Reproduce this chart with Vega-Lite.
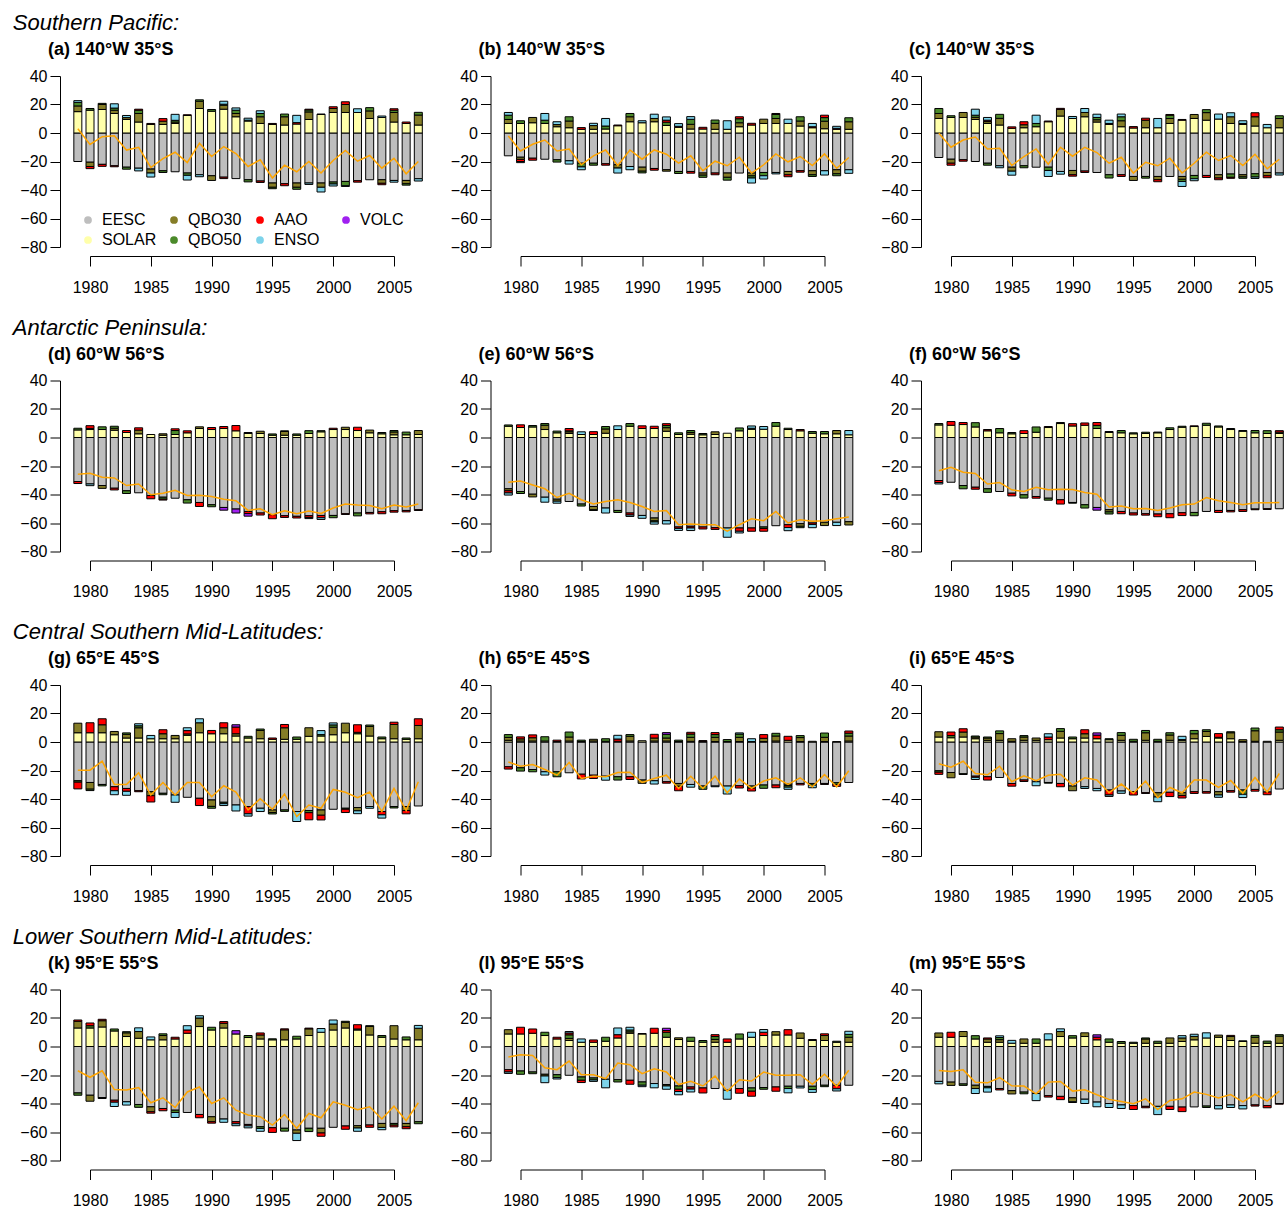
{
"$schema":"https://vega.github.io/schema/vega-lite/v6.json",
"padding":{"left":12,"top":12,"right":0,"bottom":0},
"background":"white",
"config":{
 "view":{"stroke":null},
 "font":"Liberation Sans",
 "axis":{"grid":false,"domainColor":"#000","tickColor":"#000","labelColor":"#000","labelFont":"Liberation Sans","labelFontSize":16,"title":null,"domainWidth":1,"tickWidth":1,"labelOverlap":false},
 "title":{"font":"Liberation Sans","fontSize":18,"fontWeight":"bold","anchor":"start","frame":"group","dx":-42,"color":"#000","offset":9},
 "legend":{"orient":"none","legendX":-10,"legendY":136,"columns":4,"symbolType":"circle","symbolSize":60,"symbolStrokeWidth":0,"labelFontSize":16,"labelFont":"Liberation Sans","labelColor":"#000","columnPadding":9,"rowPadding":4,"gridAlign":"all","labelOffset":6,"title":null}
},
"datasets":{
"comps":[{"comp":"EESC","ord":1},{"comp":"SOLAR","ord":2},{"comp":"QBO30","ord":3},{"comp":"QBO50","ord":4},{"comp":"AAO","ord":5},{"comp":"ENSO","ord":6},{"comp":"VOLC","ord":7}],
"bars":[
{"p":"a","year":1979,"EESC":-20,"SOLAR":15,"QBO30":4,"QBO50":2.5,"ENSO":1.2,"total":3},
{"p":"a","year":1980,"EESC":-20.5,"SOLAR":16,"QBO50":1.2,"QBO30":-3,"AAO":-1.5,"total":-8},
{"p":"a","year":1981,"EESC":-22,"SOLAR":16.5,"QBO30":3.5,"QBO50":0.8,"AAO":-1.4,"total":-2.6},
{"p":"a","year":1982,"EESC":-23,"SOLAR":13.7,"QBO30":2.3,"QBO50":1.5,"ENSO":3,"AAO":-0.7,"total":-2},
{"p":"a","year":1983,"EESC":-24,"SOLAR":9.5,"QBO30":1.3,"ENSO":1.5,"QBO50":-1.4,"total":-12},
{"p":"a","year":1984,"EESC":-24.7,"SOLAR":7.7,"QBO30":6,"QBO50":2.3,"AAO":0.7,"ENSO":-1.9,"total":-10},
{"p":"a","year":1985,"EESC":-25.3,"SOLAR":6,"AAO":0.7,"QBO30":-2.8,"ENSO":-2.8,"total":-24.2},
{"p":"a","year":1986,"EESC":-26.5,"SOLAR":6,"QBO30":2.3,"AAO":1.8,"QBO50":-1.2,"total":-18},
{"p":"a","year":1987,"EESC":-27.2,"SOLAR":6.7,"QBO30":1,"QBO50":1.2,"ENSO":4.2,"total":-13.5},
{"p":"a","year":1988,"EESC":-28.1,"SOLAR":12.3,"AAO":0.5,"QBO50":-1.6,"ENSO":-3.3,"total":-20.7},
{"p":"a","year":1989,"EESC":-29.3,"SOLAR":17.2,"QBO30":5.1,"QBO50":1,"ENSO":-1.4,"total":-7.2},
{"p":"a","year":1990,"EESC":-30,"SOLAR":15.3,"QBO50":1.2,"QBO30":-3.3,"total":-16.5},
{"p":"a","year":1991,"EESC":-31,"SOLAR":16.7,"QBO30":2.8,"QBO50":0.7,"ENSO":2.1,"AAO":-1,"total":-9.5},
{"p":"a","year":1992,"EESC":-32,"SOLAR":11.4,"QBO30":2.3,"QBO50":2.3,"ENSO":1.6,"total":-14.4},
{"p":"a","year":1993,"EESC":-32.8,"SOLAR":8.4,"QBO30":0.6,"ENSO":1.4,"QBO50":-1.5,"total":-23.5},
{"p":"a","year":1994,"EESC":-33.7,"SOLAR":6.7,"QBO30":4.7,"QBO50":2.3,"ENSO":1.9,"AAO":-1,"total":-18.8},
{"p":"a","year":1995,"EESC":-35.1,"SOLAR":6,"AAO":0.7,"QBO30":-3,"QBO50":-1,"total":-31.6},
{"p":"a","year":1996,"EESC":-35.6,"SOLAR":5.6,"QBO30":5.8,"QBO50":1.9,"AAO":-1.4,"total":-22.6},
{"p":"a","year":1997,"EESC":-35.1,"SOLAR":6.3,"ENSO":5.1,"AAO":1,"QBO30":-3,"QBO50":-1.4,"total":-27.2},
{"p":"a","year":1998,"EESC":-35.1,"SOLAR":9.5,"QBO30":5.3,"QBO50":1.4,"AAO":0.5,"ENSO":-1,"total":-20},
{"p":"a","year":1999,"EESC":-35.1,"SOLAR":13,"AAO":0.3,"QBO30":-3,"ENSO":-3.3,"total":-28.1},
{"p":"a","year":2000,"EESC":-34.4,"SOLAR":14.4,"QBO30":2.8,"AAO":1.2,"QBO50":-1.4,"ENSO":-1.4,"total":-19.3},
{"p":"a","year":2001,"EESC":-34,"SOLAR":14.4,"QBO30":5.6,"AAO":1.9,"QBO50":-3,"ENSO":-0.5,"total":-12.3},
{"p":"a","year":2002,"EESC":-33.5,"SOLAR":14.4,"ENSO":2.6,"AAO":-1,"total":-19.8},
{"p":"a","year":2003,"EESC":-32.8,"SOLAR":10.2,"QBO30":5.3,"QBO50":2.3,"total":-15.8},
{"p":"a","year":2004,"EESC":-32.8,"SOLAR":10.9,"ENSO":1,"QBO30":-2.5,"AAO":-1,"total":-24.7},
{"p":"a","year":2005,"EESC":-33.3,"SOLAR":7.7,"QBO30":6.7,"QBO50":1.6,"AAO":1,"ENSO":-1.2,"total":-17.7},
{"p":"a","year":2006,"EESC":-33.3,"SOLAR":6.7,"AAO":1,"QBO30":-2.3,"QBO50":-1,"total":-28.6},
{"p":"a","year":2007,"EESC":-32.1,"SOLAR":5.6,"QBO30":7,"QBO50":1.9,"ENSO":-1.6,"total":-20},
{"p":"b","year":1979,"EESC":-16,"SOLAR":6.7,"QBO30":2.8,"QBO50":3,"ENSO":1.9,"total":-2.1},
{"p":"b","year":1980,"EESC":-17,"SOLAR":6.7,"QBO50":1.9,"QBO30":-1.5,"AAO":-1.5,"ENSO":-0.8,"total":-12.6},
{"p":"b","year":1981,"EESC":-17.7,"SOLAR":7.2,"QBO30":3.7,"AAO":-1.4,"total":-7.9},
{"p":"b","year":1982,"EESC":-18.4,"SOLAR":6.7,"QBO50":2.3,"ENSO":4.7,"total":-4.9},
{"p":"b","year":1983,"EESC":-18.8,"SOLAR":4.4,"QBO30":1.5,"ENSO":2,"QBO50":-1.6,"total":-12.6},
{"p":"b","year":1984,"EESC":-19.5,"SOLAR":3.7,"QBO30":4.7,"QBO50":3,"ENSO":-2.3,"total":-11.2},
{"p":"b","year":1985,"EESC":-21.2,"SOLAR":2.6,"AAO":1.2,"QBO50":-2.6,"ENSO":-2,"total":-22.3},
{"p":"b","year":1986,"EESC":-21.2,"SOLAR":2.6,"QBO30":2.6,"ENSO":1.6,"QBO50":-1.4,"total":-16},
{"p":"b","year":1987,"EESC":-21.6,"SOLAR":2.8,"QBO50":2.1,"ENSO":5.3,"AAO":-1,"total":-11.9},
{"p":"b","year":1988,"EESC":-22.3,"SOLAR":5.1,"AAO":0.5,"QBO30":-2.3,"ENSO":-3.5,"total":-22.8},
{"p":"b","year":1989,"EESC":-23.5,"SOLAR":7.9,"QBO30":3.5,"QBO50":2.3,"ENSO":-2.3,"total":-11.9},
{"p":"b","year":1990,"EESC":-24,"SOLAR":7.2,"ENSO":1.4,"QBO30":-2.8,"QBO50":-1.2,"total":-18.4},
{"p":"b","year":1991,"EESC":-24.9,"SOLAR":7.9,"QBO30":2.3,"ENSO":3,"AAO":-1.2,"total":-11.9},
{"p":"b","year":1992,"EESC":-25.8,"SOLAR":5.3,"QBO50":2.3,"AAO":1.4,"ENSO":2.3,"QBO30":-1,"total":-14.9},
{"p":"b","year":1993,"EESC":-27,"SOLAR":4,"AAO":0.7,"ENSO":1.9,"QBO50":-1.4,"total":-21.2},
{"p":"b","year":1994,"EESC":-27,"SOLAR":2.8,"QBO30":3.3,"QBO50":3.5,"ENSO":1.9,"AAO":-1.2,"total":-16},
{"p":"b","year":1995,"EESC":-28.1,"SOLAR":2.8,"AAO":1.2,"QBO30":-1.5,"QBO50":-1.5,"total":-26.5},
{"p":"b","year":1996,"EESC":-28.1,"SOLAR":2.6,"QBO30":4.2,"QBO50":2.3,"AAO":-1.2,"total":-19.8},
{"p":"b","year":1997,"EESC":-28.1,"SOLAR":2.6,"ENSO":6,"QBO30":-3,"QBO50":-2,"total":-23},
{"p":"b","year":1998,"EESC":-28.1,"SOLAR":4.4,"QBO30":2.8,"QBO50":2.8,"AAO":1.4,"total":-17},
{"p":"b","year":1999,"EESC":-28.1,"SOLAR":5.6,"AAO":1.2,"QBO30":-2,"QBO50":-1.5,"ENSO":-3.5,"total":-28.1},
{"p":"b","year":2000,"EESC":-27.7,"SOLAR":6.7,"QBO30":3,"QBO50":-2.3,"ENSO":-2.3,"total":-22.3},
{"p":"b","year":2001,"EESC":-27.7,"SOLAR":6.7,"QBO30":3.5,"QBO50":2.8,"AAO":0.7,"ENSO":-1,"total":-14.7},
{"p":"b","year":2002,"EESC":-27,"SOLAR":6.7,"ENSO":3,"QBO30":-2.3,"AAO":-1.4,"total":-20.2},
{"p":"b","year":2003,"EESC":-26.5,"SOLAR":4.9,"QBO30":3.5,"QBO50":3,"AAO":-1,"total":-16.5},
{"p":"b","year":2004,"EESC":-26.5,"SOLAR":3.7,"AAO":0.7,"ENSO":2.3,"QBO30":-2.8,"QBO50":-1.2,"total":-22.8},
{"p":"b","year":2005,"EESC":-26.5,"SOLAR":3,"QBO30":5.3,"QBO50":2.5,"AAO":1.7,"ENSO":-3,"total":-14.7},
{"p":"b","year":2006,"EESC":-25.8,"SOLAR":2.6,"AAO":0.7,"ENSO":1.4,"QBO30":-2.8,"QBO50":-1.4,"total":-24.7},
{"p":"b","year":2007,"EESC":-25.8,"SOLAR":2.6,"QBO30":5.3,"QBO50":2.8,"ENSO":-2.5,"total":-17.2},
{"p":"c","year":1979,"EESC":-17.2,"SOLAR":10.2,"QBO30":3.5,"QBO50":3.5,"total":-0.2},
{"p":"c","year":1980,"EESC":-18.4,"SOLAR":10.9,"QBO50":1.2,"QBO30":-2.8,"AAO":-1.4,"total":-10},
{"p":"c","year":1981,"EESC":-18.8,"SOLAR":10.9,"QBO30":3.5,"AAO":-1,"total":-4.9},
{"p":"c","year":1982,"EESC":-20,"SOLAR":9.5,"QBO30":1.5,"QBO50":1.5,"ENSO":4.2,"total":-2.8},
{"p":"c","year":1983,"EESC":-21.2,"SOLAR":6.7,"QBO30":1.3,"AAO":1,"ENSO":1.9,"QBO50":-1.4,"total":-11.2},
{"p":"c","year":1984,"EESC":-23,"SOLAR":5.6,"QBO30":4.7,"QBO50":2.8,"ENSO":-1.4,"total":-10.7},
{"p":"c","year":1985,"EESC":-24,"SOLAR":3.3,"AAO":1,"QBO30":-2.8,"ENSO":-2.8,"total":-22.8},
{"p":"c","year":1986,"EESC":-23,"SOLAR":3.7,"QBO30":2.1,"AAO":2.1,"QBO50":-1.4,"total":-16.5},
{"p":"c","year":1987,"EESC":-24,"SOLAR":4.4,"QBO50":2.3,"ENSO":5.8,"total":-11.2},
{"p":"c","year":1988,"EESC":-24,"SOLAR":7.9,"AAO":0.5,"QBO50":-2.3,"ENSO":-4.2,"total":-21.9},
{"p":"c","year":1989,"EESC":-27,"SOLAR":11.9,"QBO30":4.7,"AAO":0.7,"ENSO":-1.9,"total":-10},
{"p":"c","year":1990,"EESC":-26.3,"SOLAR":10.2,"ENSO":1.4,"QBO30":-3,"AAO":-1,"total":-16.3},
{"p":"c","year":1991,"EESC":-26.7,"SOLAR":11.4,"QBO30":3,"ENSO":2.8,"AAO":-1,"total":-10},
{"p":"c","year":1992,"EESC":-27.7,"SOLAR":7.7,"QBO30":1.6,"QBO50":1.6,"ENSO":2.3,"total":-13.7},
{"p":"c","year":1993,"EESC":-29.3,"SOLAR":6,"AAO":0.7,"ENSO":2.3,"QBO50":-2.3,"total":-21.2},
{"p":"c","year":1994,"EESC":-29.3,"SOLAR":4.4,"QBO30":4.2,"QBO50":2.8,"ENSO":1.9,"AAO":-1.2,"total":-17},
{"p":"c","year":1995,"EESC":-30.5,"SOLAR":3.5,"AAO":1,"QBO30":-2.8,"total":-28.1},
{"p":"c","year":1996,"EESC":-30.5,"SOLAR":3.7,"QBO30":5.3,"AAO":1.4,"QBO50":-1.2,"total":-20.5},
{"p":"c","year":1997,"EESC":-30.5,"SOLAR":3.7,"ENSO":6.5,"QBO30":-2.3,"AAO":-1.4,"total":-23},
{"p":"c","year":1998,"EESC":-30.5,"SOLAR":6.7,"QBO30":3.5,"QBO50":2.3,"AAO":0.5,"total":-17.7},
{"p":"c","year":1999,"EESC":-30.5,"SOLAR":9,"AAO":0.5,"QBO30":-2,"QBO50":-1.5,"ENSO":-3.5,"total":-28.1},
{"p":"c","year":2000,"EESC":-29.8,"SOLAR":10.2,"QBO30":2.8,"QBO50":-2.3,"ENSO":-1.4,"total":-21.2},
{"p":"c","year":2001,"EESC":-29.8,"SOLAR":9,"QBO30":5.3,"QBO50":2.1,"AAO":-1.4,"total":-13.5},
{"p":"c","year":2002,"EESC":-29.3,"SOLAR":9.8,"ENSO":3.5,"QBO30":-2.3,"AAO":-1.2,"total":-19.3},
{"p":"c","year":2003,"EESC":-28.8,"SOLAR":6.7,"QBO30":4.7,"ENSO":2.8,"QBO50":-2.3,"AAO":-0.7,"total":-15.8},
{"p":"c","year":2004,"EESC":-29.3,"SOLAR":6,"AAO":0.7,"ENSO":1.9,"QBO30":-1.5,"QBO50":-1,"total":-22.8},
{"p":"c","year":2005,"EESC":-28.6,"SOLAR":4.9,"QBO30":6.5,"AAO":2.8,"QBO50":-2.3,"ENSO":-1,"total":-14.9},
{"p":"c","year":2006,"EESC":-27.7,"SOLAR":3.7,"ENSO":2.3,"QBO30":-2.3,"AAO":-1.4,"total":-25.1},
{"p":"c","year":2007,"EESC":-28.1,"SOLAR":3.7,"QBO30":6.5,"QBO50":1.9,"ENSO":-1.4,"total":-18.4},
{"p":"d","year":1979,"EESC":-30.9,"SOLAR":5.3,"QBO50":1.2,"AAO":-1.4,"total":-25.8},
{"p":"d","year":1980,"EESC":-32.6,"SOLAR":5.6,"QBO50":0.8,"AAO":1.9,"ENSO":-1.2,"total":-25.1},
{"p":"d","year":1981,"EESC":-33.7,"SOLAR":5.6,"QBO50":1.9,"QBO30":-2,"total":-27.9},
{"p":"d","year":1982,"EESC":-35.6,"SOLAR":5.1,"QBO30":1.4,"QBO50":1.4,"AAO":-1.2,"total":-28.4},
{"p":"d","year":1983,"EESC":-37.4,"SOLAR":3.5,"AAO":1.4,"QBO50":-1.9,"total":-33.7},
{"p":"d","year":1984,"EESC":-38.8,"SOLAR":2.6,"QBO30":2.6,"AAO":1.6,"total":-32.6},
{"p":"d","year":1985,"EESC":-40.7,"SOLAR":2.1,"AAO":-2.3,"total":-40.2},
{"p":"d","year":1986,"EESC":-41.9,"SOLAR":1.6,"QBO30":1,"QBO50":-1.4,"AAO":-0.6,"total":-39.1},
{"p":"d","year":1987,"EESC":-42.6,"SOLAR":2.1,"QBO50":2.8,"AAO":1.2,"total":-37},
{"p":"d","year":1988,"EESC":-43.7,"SOLAR":3.3,"AAO":1.4,"QBO50":-2.3,"total":-40.7},
{"p":"d","year":1989,"EESC":-45.6,"SOLAR":6.3,"QBO30":1.2,"AAO":-2.8,"total":-40.5},
{"p":"d","year":1990,"EESC":-47.2,"SOLAR":5.6,"AAO":1.4,"QBO50":-1.4,"total":-41.4},
{"p":"d","year":1991,"EESC":-49.1,"SOLAR":6.3,"AAO":1.4,"VOLC":-1.9,"total":-43.3},
{"p":"d","year":1992,"EESC":-50.2,"SOLAR":4.7,"AAO":3.7,"VOLC":-2.8,"total":-44.4},
{"p":"d","year":1993,"EESC":-51.9,"SOLAR":2.8,"QBO50":0.7,"AAO":-1.5,"VOLC":-1.8,"total":-51.2},
{"p":"d","year":1994,"EESC":-53,"SOLAR":2.8,"QBO30":1.6,"AAO":-1.4,"total":-50},
{"p":"d","year":1995,"EESC":-54.2,"SOLAR":1.6,"QBO50":0.9,"AAO":-2.8,"total":-54.2},
{"p":"d","year":1996,"EESC":-54.9,"SOLAR":1.6,"QBO30":2.6,"QBO50":0.5,"AAO":-1.2,"total":-51.4},
{"p":"d","year":1997,"EESC":-55.3,"SOLAR":1.6,"QBO50":0.9,"AAO":-1.2,"total":-53.5},
{"p":"d","year":1998,"EESC":-54.9,"SOLAR":2.8,"QBO50":2,"AAO":-1.2,"ENSO":-0.8,"total":-51.6},
{"p":"d","year":1999,"EESC":-54.7,"SOLAR":4,"QBO50":0.8,"AAO":-1.6,"ENSO":-1.2,"total":-53.3},
{"p":"d","year":2000,"EESC":-54.7,"SOLAR":5.6,"AAO":0.9,"QBO50":-1.6,"total":-49.5},
{"p":"d","year":2001,"EESC":-53.5,"SOLAR":5.6,"QBO30":1.6,"AAO":-0.5,"total":-46.7},
{"p":"d","year":2002,"EESC":-53,"SOLAR":4.9,"AAO":2.3,"QBO50":-2,"total":-47.4},
{"p":"d","year":2003,"EESC":-52.6,"SOLAR":3.3,"QBO30":1.9,"AAO":-1,"total":-47.7},
{"p":"d","year":2004,"EESC":-52.1,"SOLAR":2.6,"QBO50":0.9,"AAO":-1.4,"total":-50},
{"p":"d","year":2005,"EESC":-51.4,"SOLAR":1.9,"QBO30":2,"QBO50":1,"AAO":-1,"total":-47.4},
{"p":"d","year":2006,"EESC":-51.2,"SOLAR":1.9,"QBO50":1.9,"AAO":-1,"total":-48.8},
{"p":"d","year":2007,"EESC":-50.7,"SOLAR":2.1,"QBO30":2.8,"AAO":-0.5,"total":-46.7},
{"p":"e","year":1979,"EESC":-36,"SOLAR":7.9,"QBO50":0.9,"QBO30":-1.4,"AAO":-1.5,"ENSO":-1.5,"total":-31.4},
{"p":"e","year":1980,"EESC":-37.9,"SOLAR":7,"AAO":1.9,"QBO50":-1.4,"total":-30.5},
{"p":"e","year":1981,"EESC":-39.8,"SOLAR":7.4,"QBO50":1,"QBO30":-1.9,"total":-33.3},
{"p":"e","year":1982,"EESC":-41.9,"SOLAR":5.6,"QBO30":3,"QBO50":1.2,"ENSO":-3.5,"total":-36},
{"p":"e","year":1983,"EESC":-43.3,"SOLAR":3.3,"QBO50":1.2,"QBO30":-1.4,"ENSO":-1.4,"total":-42.1},
{"p":"e","year":1984,"EESC":-44.9,"SOLAR":2.8,"QBO30":1.2,"QBO50":0.7,"AAO":1.6,"total":-39.1},
{"p":"e","year":1985,"EESC":-46.7,"SOLAR":2.1,"ENSO":1.9,"QBO50":-1.4,"total":-43.7},
{"p":"e","year":1986,"EESC":-48.4,"SOLAR":2.1,"AAO":2,"QBO30":-2.3,"QBO50":-0.5,"total":-46.7},
{"p":"e","year":1987,"EESC":-49.5,"SOLAR":3,"QBO30":3,"QBO50":1.7,"ENSO":-3.5,"total":-44.9},
{"p":"e","year":1988,"EESC":-51.2,"SOLAR":5.6,"ENSO":2.6,"QBO50":-1.4,"total":-43.7},
{"p":"e","year":1989,"EESC":-53,"SOLAR":7.9,"QBO50":1.9,"AAO":-1.4,"ENSO":-1,"total":-45.6},
{"p":"e","year":1990,"EESC":-54.7,"SOLAR":6.3,"AAO":1.9,"ENSO":-2,"total":-48.4},
{"p":"e","year":1991,"EESC":-56.5,"SOLAR":6.3,"AAO":1.6,"QBO30":-2,"QBO50":-0.8,"ENSO":-1.5,"total":-51.9},
{"p":"e","year":1992,"EESC":-58.4,"SOLAR":4.4,"QBO30":2.5,"QBO50":1.5,"AAO":1.3,"ENSO":-2.3,"total":-51.2},
{"p":"e","year":1993,"EESC":-62.8,"SOLAR":2.1,"QBO50":1.2,"AAO":-1,"ENSO":-1.4,"total":-61.2},
{"p":"e","year":1994,"EESC":-62.3,"SOLAR":2.3,"QBO30":1.2,"QBO50":1.4,"AAO":-1.2,"ENSO":-1.8,"total":-60.7},
{"p":"e","year":1995,"EESC":-62.8,"SOLAR":1.9,"QBO50":0.9,"AAO":-1.4,"total":-61.2},
{"p":"e","year":1996,"EESC":-63.3,"SOLAR":2.1,"QBO30":1.9,"AAO":-1.2,"total":-61.2},
{"p":"e","year":1997,"EESC":-63.5,"SOLAR":3,"ENSO":-6.5,"total":-65.8},
{"p":"e","year":1998,"EESC":-63.5,"SOLAR":4.7,"QBO50":2,"AAO":-2.3,"ENSO":-1.2,"total":-61.2},
{"p":"e","year":1999,"EESC":-63.5,"SOLAR":5.8,"QBO50":0.7,"ENSO":1.6,"AAO":-2.3,"total":-57},
{"p":"e","year":2000,"EESC":-62.8,"SOLAR":5.8,"ENSO":1.9,"QBO50":-1,"AAO":-2,"total":-58.4},
{"p":"e","year":2001,"EESC":-61.9,"SOLAR":7.9,"QBO50":2.6,"total":-51.9},
{"p":"e","year":2002,"EESC":-61.2,"SOLAR":5.6,"QBO50":0.9,"AAO":-2,"ENSO":-2.2,"total":-60},
{"p":"e","year":2003,"EESC":-60.5,"SOLAR":4.7,"AAO":0.9,"QBO30":-1.8,"QBO50":-1,"total":-57.7},
{"p":"e","year":2004,"EESC":-60,"SOLAR":3,"QBO50":1.2,"AAO":-1,"ENSO":-2.3,"total":-58.8},
{"p":"e","year":2005,"EESC":-59.5,"SOLAR":2.6,"QBO50":1.6,"QBO30":-2.3,"total":-58.4},
{"p":"e","year":2006,"EESC":-59.5,"SOLAR":2.6,"QBO30":2.3,"ENSO":-2.3,"total":-57},
{"p":"e","year":2007,"EESC":-59.1,"SOLAR":1.9,"ENSO":3,"QBO30":-2.3,"total":-55.8},
{"p":"f","year":1979,"EESC":-30.2,"SOLAR":8.8,"QBO50":1,"AAO":-1.4,"ENSO":-1,"total":-23.3},
{"p":"f","year":1980,"EESC":-31.4,"SOLAR":8.6,"AAO":2.6,"total":-20.9},
{"p":"f","year":1981,"EESC":-33.7,"SOLAR":9.1,"AAO":1.4,"QBO50":-2.3,"total":-24.4},
{"p":"f","year":1982,"EESC":-34.9,"SOLAR":7.4,"QBO50":3,"AAO":-1.4,"total":-25.3},
{"p":"f","year":1983,"EESC":-36,"SOLAR":4.7,"AAO":0.9,"QBO50":-2.5,"total":-32.6},
{"p":"f","year":1984,"EESC":-37.9,"SOLAR":3.3,"QBO50":3,"total":-31.6},
{"p":"f","year":1985,"EESC":-39.1,"SOLAR":2.6,"QBO50":0.9,"AAO":-1.9,"total":-36.7},
{"p":"f","year":1986,"EESC":-40.2,"SOLAR":2.8,"AAO":2,"QBO50":-2.3,"total":-37.9},
{"p":"f","year":1987,"EESC":-41.4,"SOLAR":3.7,"QBO50":3.7,"AAO":-1.2,"total":-34.9},
{"p":"f","year":1988,"EESC":-42.6,"SOLAR":7,"AAO":0.7,"QBO50":-1.4,"total":-36.7},
{"p":"f","year":1989,"EESC":-43.7,"SOLAR":9.8,"QBO50":0.7,"AAO":-3,"total":-36.3},
{"p":"f","year":1990,"EESC":-45.6,"SOLAR":8.1,"AAO":1.6,"QBO50":-0.5,"total":-36.5},
{"p":"f","year":1991,"EESC":-47.2,"SOLAR":8.6,"AAO":1.6,"QBO50":-2.3,"total":-38.6},
{"p":"f","year":1992,"EESC":-49.1,"SOLAR":6.3,"QBO50":2.2,"AAO":2,"VOLC":-1.9,"total":-39.8},
{"p":"f","year":1993,"EESC":-50.7,"SOLAR":3.5,"AAO":0.7,"QBO30":-1.5,"QBO50":-1.5,"total":-48.8},
{"p":"f","year":1994,"EESC":-51.9,"SOLAR":3.3,"QBO50":1.6,"AAO":-1.6,"total":-48},
{"p":"f","year":1995,"EESC":-53,"SOLAR":2.6,"QBO50":0.7,"AAO":-1.4,"total":-50},
{"p":"f","year":1996,"EESC":-53.5,"SOLAR":2.8,"QBO50":0.9,"AAO":-1,"total":-49.8},
{"p":"f","year":1997,"EESC":-53.7,"SOLAR":3.3,"QBO50":0.5,"AAO":-1.9,"total":-51.2},
{"p":"f","year":1998,"EESC":-53.5,"SOLAR":5.6,"QBO50":1.2,"AAO":-2.8,"total":-49.5},
{"p":"f","year":1999,"EESC":-52.8,"SOLAR":7.2,"QBO50":0.7,"AAO":-2,"total":-47.2},
{"p":"f","year":2000,"EESC":-52.6,"SOLAR":7.7,"AAO":0.5,"QBO50":-2.3,"total":-46.7},
{"p":"f","year":2001,"EESC":-51.9,"SOLAR":8.6,"QBO50":1.4,"total":-42.1},
{"p":"f","year":2002,"EESC":-51.2,"SOLAR":7.4,"QBO50":0.7,"AAO":-1.4,"total":-44.4},
{"p":"f","year":2003,"EESC":-51.2,"SOLAR":5.6,"QBO50":0.7,"AAO":-1,"total":-45.6},
{"p":"f","year":2004,"EESC":-50.7,"SOLAR":4.4,"QBO50":0.5,"AAO":-1.2,"total":-47.2},
{"p":"f","year":2005,"EESC":-50.2,"SOLAR":3.3,"QBO50":1.6,"AAO":-0.5,"total":-45.8},
{"p":"f","year":2006,"EESC":-50,"SOLAR":2.8,"QBO50":2,"AAO":-0.5,"total":-45.8},
{"p":"f","year":2007,"EESC":-50,"SOLAR":2.8,"QBO50":1,"AAO":1,"total":-45.6},
{"p":"g","year":1979,"EESC":-27.2,"SOLAR":6.5,"QBO30":6.7,"AAO":-4.7,"QBO50":-1,"total":-19.8},
{"p":"g","year":1980,"EESC":-28.4,"SOLAR":6.5,"AAO":7,"QBO30":-4.7,"QBO50":-1,"total":-19.8},
{"p":"g","year":1981,"EESC":-29.8,"SOLAR":6.5,"QBO30":5.6,"AAO":4.2,"QBO50":-1,"total":-13.5},
{"p":"g","year":1982,"EESC":-31.4,"SOLAR":5.1,"QBO30":2.3,"AAO":-2.8,"ENSO":-2.8,"total":-29.8},
{"p":"g","year":1983,"EESC":-32.6,"SOLAR":2.8,"QBO30":2.6,"QBO50":1,"AAO":-2,"ENSO":-2.8,"total":-29.8},
{"p":"g","year":1984,"EESC":-34.2,"SOLAR":2.8,"QBO30":7.2,"QBO50":1.4,"ENSO":1.4,"AAO":-0.7,"total":-21.6},
{"p":"g","year":1985,"EESC":-34.9,"SOLAR":2.3,"ENSO":2.3,"QBO30":-2.8,"AAO":-4.4,"total":-37.2},
{"p":"g","year":1986,"EESC":-36,"SOLAR":2.3,"QBO30":3.5,"AAO":2.8,"QBO50":-1,"total":-28.4},
{"p":"g","year":1987,"EESC":-37.2,"SOLAR":2.3,"QBO30":2.3,"ENSO":-5.1,"total":-37.2},
{"p":"g","year":1988,"EESC":-38.8,"SOLAR":4.7,"QBO50":1,"AAO":2.3,"ENSO":2,"total":-28.4},
{"p":"g","year":1989,"EESC":-39.5,"SOLAR":6.5,"QBO30":7,"ENSO":2.8,"AAO":-5.1,"total":-28.4},
{"p":"g","year":1990,"EESC":-40.7,"SOLAR":5.8,"AAO":2.3,"QBO30":-4.5,"QBO50":-1.3,"total":-38.4},
{"p":"g","year":1991,"EESC":-42.3,"SOLAR":5.8,"QBO30":4.2,"AAO":3.5,"QBO50":-1,"ENSO":-1.3,"total":-30.7},
{"p":"g","year":1992,"EESC":-44.2,"SOLAR":4.2,"QBO30":1.6,"AAO":4.7,"VOLC":1.6,"ENSO":-4.2,"total":-35.1},
{"p":"g","year":1993,"EESC":-45.3,"SOLAR":2.8,"QBO50":1.2,"AAO":-5.1,"ENSO":-1.6,"total":-47.7},
{"p":"g","year":1994,"EESC":-46.5,"SOLAR":2.3,"QBO30":5.8,"QBO50":1,"ENSO":-2.3,"total":-39.8},
{"p":"g","year":1995,"EESC":-47.7,"SOLAR":1.9,"AAO":0.9,"QBO30":-1.8,"QBO50":-1,"total":-47.2},
{"p":"g","year":1996,"EESC":-47.7,"SOLAR":1.9,"QBO30":8.1,"AAO":2.3,"QBO50":-1,"total":-36.5},
{"p":"g","year":1997,"EESC":-48.8,"SOLAR":1.9,"QBO50":1.6,"ENSO":-7,"total":-52.3},
{"p":"g","year":1998,"EESC":-48.1,"SOLAR":4,"QBO30":6,"QBO50":-1.5,"AAO":-5,"total":-44.2},
{"p":"g","year":1999,"EESC":-47.7,"SOLAR":4.2,"QBO50":1,"ENSO":2.8,"QBO30":-3.7,"AAO":-3.3,"total":-46.5},
{"p":"g","year":2000,"EESC":-47.2,"SOLAR":5.1,"QBO30":5.3,"QBO50":1.6,"ENSO":1.4,"total":-33.3},
{"p":"g","year":2001,"EESC":-46.5,"SOLAR":6.5,"QBO30":6.7,"QBO50":-0.7,"AAO":-2.3,"total":-35.3},
{"p":"g","year":2002,"EESC":-46,"SOLAR":5.8,"QBO50":1,"AAO":5.3,"QBO30":-2.3,"ENSO":-2,"total":-39.1},
{"p":"g","year":2003,"EESC":-45.3,"SOLAR":4.2,"QBO30":6.7,"QBO50":1,"ENSO":-1.2,"total":-35.1},
{"p":"g","year":2004,"EESC":-48.8,"SOLAR":2.3,"QBO50":1.2,"AAO":-2.3,"ENSO":-2.3,"total":-48.8},
{"p":"g","year":2005,"EESC":-45.3,"SOLAR":2.3,"QBO30":10,"AAO":1.6,"QBO50":-1,"total":-32.6},
{"p":"g","year":2006,"EESC":-45.3,"SOLAR":1.9,"QBO50":0.9,"QBO30":-2.8,"AAO":-2.3,"total":-48.1},
{"p":"g","year":2007,"EESC":-44.9,"SOLAR":2.3,"QBO30":9.3,"AAO":4.7,"total":-27.9},
{"p":"h","year":1979,"EESC":-17.4,"SOLAR":1.2,"QBO30":2,"QBO50":2,"AAO":-1.6,"total":-14},
{"p":"h","year":1980,"EESC":-18.1,"SOLAR":0.7,"QBO30":1.5,"AAO":1.4,"QBO50":-2.3,"total":-17},
{"p":"h","year":1981,"EESC":-19.3,"SOLAR":0.7,"QBO30":2.3,"AAO":2,"QBO50":-1.6,"total":-15.8},
{"p":"h","year":1982,"EESC":-20.9,"SOLAR":0.7,"QBO50":3,"ENSO":-2.3,"total":-19.3},
{"p":"h","year":1983,"EESC":-20.9,"SOLAR":0.3,"AAO":1,"QBO50":-3.5,"total":-23.3},
{"p":"h","year":1984,"EESC":-21.6,"SOLAR":0.7,"QBO30":2.8,"QBO50":3.5,"total":-14.4},
{"p":"h","year":1985,"EESC":-22.6,"SOLAR":0.3,"QBO50":1,"AAO":-3.3,"total":-25.6},
{"p":"h","year":1986,"EESC":-23.3,"SOLAR":0.7,"QBO30":1.2,"AAO":-2.3,"total":-24},
{"p":"h","year":1987,"EESC":-24,"SOLAR":0.5,"QBO50":1.8,"ENSO":-2.8,"total":-24.4},
{"p":"h","year":1988,"EESC":-24.4,"SOLAR":0.5,"AAO":1.6,"ENSO":2.6,"QBO50":-2.3,"total":-21.4},
{"p":"h","year":1989,"EESC":-24.4,"SOLAR":0.7,"QBO30":3.3,"QBO50":1.2,"AAO":-1.9,"total":-21.2},
{"p":"h","year":1990,"EESC":-26.7,"SOLAR":0.9,"QBO30":-2.3,"total":-28.4},
{"p":"h","year":1991,"EESC":-27.2,"SOLAR":0.7,"QBO30":2.1,"AAO":2.6,"ENSO":-2.3,"total":-25.6},
{"p":"h","year":1992,"EESC":-27.9,"SOLAR":0.7,"QBO30":2.1,"QBO50":2.6,"VOLC":1.2,"AAO":-1,"total":-23.3},
{"p":"h","year":1993,"EESC":-29.1,"SOLAR":0.3,"QBO50":1,"QBO30":-2,"AAO":-3.1,"total":-32.6},
{"p":"h","year":1994,"EESC":-29.8,"SOLAR":0.5,"QBO30":2.8,"QBO50":2.3,"AAO":1.2,"ENSO":-1.9,"total":-24},
{"p":"h","year":1995,"EESC":-30.9,"SOLAR":0.3,"AAO":0.7,"QBO50":-2.3,"total":-32.6},
{"p":"h","year":1996,"EESC":-30.9,"SOLAR":0.3,"QBO30":3,"QBO50":1.9,"AAO":1.4,"ENSO":-0.5,"total":-24},
{"p":"h","year":1997,"EESC":-30.9,"SOLAR":0.3,"QBO50":1.4,"ENSO":-5.6,"total":-35.6},
{"p":"h","year":1998,"EESC":-30.7,"SOLAR":0.3,"QBO30":3,"QBO50":2.3,"ENSO":0.8,"AAO":-1.6,"total":-26},
{"p":"h","year":1999,"EESC":-30.9,"SOLAR":0.3,"ENSO":2,"QBO50":-1.5,"AAO":-2,"total":-32.6},
{"p":"h","year":2000,"EESC":-30.2,"SOLAR":0.3,"QBO30":2.3,"AAO":2.6,"QBO50":-2.3,"total":-27.4},
{"p":"h","year":2001,"EESC":-30.2,"SOLAR":0.7,"QBO30":3.5,"QBO50":1.9,"AAO":-1.9,"total":-25.1},
{"p":"h","year":2002,"EESC":-29.5,"SOLAR":1.2,"AAO":2.8,"QBO30":-1,"QBO50":-1.2,"ENSO":-1.5,"total":-29.8},
{"p":"h","year":2003,"EESC":-29.1,"SOLAR":0.3,"QBO30":2.8,"QBO50":1.4,"AAO":-1,"total":-25.1},
{"p":"h","year":2004,"EESC":-29.1,"SOLAR":0.5,"QBO50":-1.2,"ENSO":-1.8,"total":-31.4},
{"p":"h","year":2005,"EESC":-29.1,"SOLAR":0.3,"QBO30":3,"QBO50":3,"AAO":-0.7,"total":-22.8},
{"p":"h","year":2006,"EESC":-28.6,"SOLAR":0.3,"QBO50":-1.2,"AAO":-1.3,"total":-31.4},
{"p":"h","year":2007,"EESC":-28.4,"SOLAR":0.7,"QBO30":3.5,"QBO50":2,"AAO":1.5,"total":-20.2},
{"p":"i","year":1979,"EESC":-20.2,"SOLAR":3.5,"QBO30":3.7,"QBO50":-1,"AAO":-1.5,"total":-15.3},
{"p":"i","year":1980,"EESC":-21.4,"SOLAR":3,"QBO50":1.5,"AAO":2.5,"QBO30":-3.7,"total":-17.7},
{"p":"i","year":1981,"EESC":-22.3,"SOLAR":3.5,"QBO30":3.5,"AAO":2.3,"QBO50":-0.5,"total":-13.5},
{"p":"i","year":1982,"EESC":-24,"SOLAR":2.3,"QBO30":1.2,"QBO50":0.7,"AAO":-0.8,"ENSO":-1.5,"total":-22.1},
{"p":"i","year":1983,"EESC":-24.4,"SOLAR":1.2,"QBO30":1.6,"QBO50":0.7,"AAO":-2.3,"total":-23},
{"p":"i","year":1984,"EESC":-24.9,"SOLAR":1.2,"QBO30":4.7,"QBO50":1.9,"total":-17},
{"p":"i","year":1985,"EESC":-29.1,"SOLAR":0.5,"QBO30":1.8,"AAO":-1.9,"total":-27.9},
{"p":"i","year":1986,"EESC":-26.7,"SOLAR":1.2,"QBO30":2.3,"QBO50":1,"AAO":-1,"total":-23.7},
{"p":"i","year":1987,"EESC":-27.9,"SOLAR":1.2,"QBO30":1.6,"ENSO":-2.8,"total":-27.2},
{"p":"i","year":1988,"EESC":-28.4,"SOLAR":1.6,"AAO":1.9,"ENSO":2.3,"QBO50":-0.5,"total":-23.3},
{"p":"i","year":1989,"EESC":-29.1,"SOLAR":2.8,"QBO30":4.7,"QBO50":1.9,"AAO":-2.3,"total":-22.6},
{"p":"i","year":1990,"EESC":-30.9,"SOLAR":2.3,"QBO50":1.2,"QBO30":-3.3,"total":-30.2},
{"p":"i","year":1991,"EESC":-31.4,"SOLAR":2.8,"QBO30":3,"AAO":2.8,"ENSO":-1.2,"total":-25.1},
{"p":"i","year":1992,"EESC":-32.6,"SOLAR":2.3,"AAO":2.5,"VOLC":1.6,"ENSO":-1.6,"total":-26.7},
{"p":"i","year":1993,"EESC":-33.7,"SOLAR":1.6,"QBO50":0.7,"AAO":-3.5,"ENSO":-1,"total":-35.6},
{"p":"i","year":1994,"EESC":-34.4,"SOLAR":1.2,"QBO30":3.5,"QBO50":1.9,"ENSO":-1.6,"total":-29.5},
{"p":"i","year":1995,"EESC":-34.9,"SOLAR":0.5,"QBO50":1.4,"AAO":-2.3,"total":-36},
{"p":"i","year":1996,"EESC":-35.6,"SOLAR":1.2,"QBO30":5.3,"QBO50":1.6,"AAO":-0.5,"total":-27.4},
{"p":"i","year":1997,"EESC":-35.6,"SOLAR":0.5,"QBO50":1.4,"QBO30":-3,"ENSO":-3.3,"total":-39.1},
{"p":"i","year":1998,"EESC":-35.3,"SOLAR":1.2,"QBO30":3.7,"QBO50":1.6,"AAO":-3,"total":-31.9},
{"p":"i","year":1999,"EESC":-35.6,"SOLAR":1.2,"QBO50":0.5,"ENSO":2.3,"QBO30":-2,"AAO":-1.7,"total":-35.6},
{"p":"i","year":2000,"EESC":-34.9,"SOLAR":2.3,"QBO30":3.5,"QBO50":2.3,"AAO":-1.2,"total":-26.7},
{"p":"i","year":2001,"EESC":-34.9,"SOLAR":3.9,"QBO30":3.5,"QBO50":1.2,"AAO":-1,"total":-26.7},
{"p":"i","year":2002,"EESC":-34.9,"SOLAR":2.8,"QBO50":0.5,"AAO":2.6,"QBO30":-2.3,"ENSO":-1.6,"total":-31.9},
{"p":"i","year":2003,"EESC":-34.2,"SOLAR":2.3,"QBO30":4.2,"QBO50":0.7,"AAO":-1,"total":-27},
{"p":"i","year":2004,"EESC":-33.7,"SOLAR":0.3,"QBO30":1.3,"QBO50":-3,"ENSO":-2.3,"total":-36},
{"p":"i","year":2005,"EESC":-33.3,"SOLAR":0.5,"QBO30":7.4,"QBO50":1.9,"AAO":-1.2,"total":-24.9},
{"p":"i","year":2006,"EESC":-35.1,"SOLAR":0.5,"AAO":-1.9,"total":-35.1},
{"p":"i","year":2007,"EESC":-33,"SOLAR":1.2,"QBO30":5.8,"QBO50":1.6,"AAO":1.9,"total":-22.1},
{"p":"k","year":1979,"EESC":-32.6,"SOLAR":13,"QBO30":4.7,"AAO":0.9,"QBO50":-1.6,"total":-17},
{"p":"k","year":1980,"EESC":-34.2,"SOLAR":13,"QBO50":1.6,"AAO":1.9,"QBO30":-4.2,"total":-21.6},
{"p":"k","year":1981,"EESC":-35.8,"SOLAR":13.7,"QBO30":4.4,"AAO":1,"QBO50":-0.7,"total":-17},
{"p":"k","year":1982,"EESC":-37.7,"SOLAR":10.9,"QBO50":1.4,"AAO":-1.4,"ENSO":-3,"total":-30.2},
{"p":"k","year":1983,"EESC":-38.8,"SOLAR":7,"QBO30":2.6,"QBO50":0.8,"ENSO":-2.3,"total":-30.5},
{"p":"k","year":1984,"EESC":-40.7,"SOLAR":5.8,"QBO30":4.7,"ENSO":2.6,"QBO50":-2,"total":-28.8},
{"p":"k","year":1985,"EESC":-42.3,"SOLAR":4.7,"ENSO":2,"QBO30":-3.5,"AAO":-1,"total":-39.5},
{"p":"k","year":1986,"EESC":-43.5,"SOLAR":4.7,"QBO30":3,"QBO50":1.2,"AAO":-1.6,"total":-36},
{"p":"k","year":1987,"EESC":-44.7,"SOLAR":5.3,"AAO":1.2,"QBO50":-1.6,"ENSO":-3.5,"total":-42.8},
{"p":"k","year":1988,"EESC":-46.3,"SOLAR":9.3,"AAO":2.3,"ENSO":3,"total":-31.9},
{"p":"k","year":1989,"EESC":-47.7,"SOLAR":14,"QBO30":6,"ENSO":1.6,"AAO":-2.3,"total":-28.4},
{"p":"k","year":1990,"EESC":-49.3,"SOLAR":11.6,"QBO50":1.9,"QBO30":-3.5,"AAO":-1,"total":-40},
{"p":"k","year":1991,"EESC":-50.9,"SOLAR":13,"QBO30":3.3,"AAO":1.2,"ENSO":-2.3,"total":-36},
{"p":"k","year":1992,"EESC":-52.8,"SOLAR":8.8,"VOLC":2.3,"AAO":-1.4,"ENSO":-1.4,"total":-44.7},
{"p":"k","year":1993,"EESC":-54.7,"SOLAR":6.3,"QBO50":1.4,"AAO":-1,"ENSO":-1.4,"total":-48.1},
{"p":"k","year":1994,"EESC":-56.3,"SOLAR":5.3,"QBO30":2.8,"AAO":1.4,"QBO50":-1.2,"ENSO":-2,"total":-49.3},
{"p":"k","year":1995,"EESC":-57,"SOLAR":4.7,"QBO50":0.7,"AAO":-3.3,"total":-55.1},
{"p":"k","year":1996,"EESC":-57.4,"SOLAR":4.7,"QBO30":7,"AAO":0.7,"QBO50":-2,"total":-47.7},
{"p":"k","year":1997,"EESC":-58.6,"SOLAR":5.3,"QBO50":1.9,"QBO30":-2.3,"ENSO":-5.1,"total":-57.4},
{"p":"k","year":1998,"EESC":-57.4,"SOLAR":7.7,"QBO30":4.7,"AAO":0.5,"QBO50":-2.3,"total":-47},
{"p":"k","year":1999,"EESC":-57.4,"SOLAR":10,"ENSO":2.6,"QBO30":-3.3,"AAO":-2.3,"total":-50},
{"p":"k","year":2000,"EESC":-56.7,"SOLAR":11.6,"QBO30":4.2,"ENSO":2.8,"total":-38.8},
{"p":"k","year":2001,"EESC":-55.8,"SOLAR":13,"QBO30":4,"QBO50":0.7,"AAO":-2.3,"total":-41.2},
{"p":"k","year":2002,"EESC":-55.6,"SOLAR":11.6,"QBO50":0.7,"AAO":3,"QBO30":-1.6,"ENSO":-2.3,"total":-44.4},
{"p":"k","year":2003,"EESC":-55.1,"SOLAR":8.1,"QBO30":6,"QBO50":0.5,"AAO":-1.6,"total":-42.3},
{"p":"k","year":2004,"EESC":-54,"SOLAR":6.5,"QBO50":1.2,"QBO30":-2.8,"ENSO":-1.6,"total":-50.9},
{"p":"k","year":2005,"EESC":-54,"SOLAR":5.3,"QBO30":9.3,"QBO50":-1.2,"AAO":-1.2,"total":-41.9},
{"p":"k","year":2006,"EESC":-54,"SOLAR":4.7,"QBO50":2,"QBO30":-2.3,"AAO":-1.4,"total":-52.1},
{"p":"k","year":2007,"EESC":-52.8,"SOLAR":4.7,"QBO30":8.1,"ENSO":2,"QBO50":-1.4,"total":-39.5},
{"p":"l","year":1979,"EESC":-16.3,"SOLAR":8.8,"QBO30":3,"AAO":-1.6,"ENSO":-1,"total":-7.4},
{"p":"l","year":1980,"EESC":-17.2,"SOLAR":8.8,"AAO":4.7,"QBO50":-2.3,"total":-5.8},
{"p":"l","year":1981,"EESC":-17.9,"SOLAR":9.3,"AAO":3,"QBO50":-1.2,"total":-6.3},
{"p":"l","year":1982,"EESC":-19.5,"SOLAR":7.7,"QBO50":2.3,"QBO30":-1.2,"ENSO":-4.7,"total":-14.9},
{"p":"l","year":1983,"EESC":-19.8,"SOLAR":5.3,"AAO":1.2,"QBO50":-2,"ENSO":-1,"total":-16.3},
{"p":"l","year":1984,"EESC":-20.2,"SOLAR":4.2,"QBO30":1.5,"QBO50":2.5,"AAO":1.3,"ENSO":1,"total":-10.2},
{"p":"l","year":1985,"EESC":-21.4,"SOLAR":3,"ENSO":2.3,"QBO50":-2.3,"AAO":-1.6,"total":-19.8},
{"p":"l","year":1986,"EESC":-22.1,"SOLAR":3,"AAO":1.6,"QBO50":-1.4,"ENSO":-1,"total":-19.8},
{"p":"l","year":1987,"EESC":-23,"SOLAR":3.7,"QBO50":2.8,"ENSO":-6,"total":-22.6},
{"p":"l","year":1988,"EESC":-23.3,"SOLAR":6,"AAO":2.3,"ENSO":4.7,"QBO50":-1.6,"total":-11.6},
{"p":"l","year":1989,"EESC":-23.7,"SOLAR":9.3,"QBO30":1,"QBO50":1.3,"ENSO":1.9,"AAO":-2.8,"total":-12.8},
{"p":"l","year":1990,"EESC":-24.9,"SOLAR":8.8,"AAO":0.3,"QBO50":-2.3,"ENSO":-1,"total":-19.1},
{"p":"l","year":1991,"EESC":-26,"SOLAR":9.3,"AAO":3.5,"ENSO":-3,"total":-15.6},
{"p":"l","year":1992,"EESC":-26.7,"SOLAR":6.5,"QBO50":3.5,"AAO":1.2,"VOLC":1.6,"QBO30":-1,"ENSO":-2.3,"total":-17.9},
{"p":"l","year":1993,"EESC":-27.7,"SOLAR":4.9,"QBO30":1.2,"QBO50":-2.3,"AAO":-1.6,"ENSO":-2.3,"total":-26.7},
{"p":"l","year":1994,"EESC":-28.4,"SOLAR":3.7,"QBO50":2.8,"AAO":-1.5,"ENSO":-2,"total":-24.4},
{"p":"l","year":1995,"EESC":-29.1,"SOLAR":3,"QBO50":1.2,"AAO":-3.5,"total":-27.7},
{"p":"l","year":1996,"EESC":-29.5,"SOLAR":3,"QBO30":2,"QBO50":2,"AAO":1.3,"total":-20.7},
{"p":"l","year":1997,"EESC":-30.7,"SOLAR":3,"AAO":2.3,"ENSO":-6.3,"total":-31.4},
{"p":"l","year":1998,"EESC":-29.5,"SOLAR":5.3,"QBO50":3.5,"AAO":-3.3,"total":-23.3},
{"p":"l","year":1999,"EESC":-29.1,"SOLAR":6.5,"ENSO":3.5,"QBO50":-2.3,"AAO":-3.5,"total":-24.2},
{"p":"l","year":2000,"EESC":-28.8,"SOLAR":7.7,"AAO":2.3,"ENSO":1.9,"QBO50":-1.2,"total":-17.9},
{"p":"l","year":2001,"EESC":-28.4,"SOLAR":8.1,"QBO30":2.3,"AAO":-3,"total":-20.2},
{"p":"l","year":2002,"EESC":-27.9,"SOLAR":8.1,"AAO":3.7,"QBO50":-1.6,"ENSO":-3,"total":-20.2},
{"p":"l","year":2003,"EESC":-27.9,"SOLAR":5.8,"QBO30":3.7,"ENSO":-1.2,"total":-19.8},
{"p":"l","year":2004,"EESC":-27.9,"SOLAR":4.2,"AAO":0.7,"QBO50":-2.3,"ENSO":-2,"total":-26.5},
{"p":"l","year":2005,"EESC":-27.2,"SOLAR":4.2,"QBO30":3.5,"AAO":1.2,"QBO50":-1,"total":-19.5},
{"p":"l","year":2006,"EESC":-27.2,"SOLAR":3,"QBO50":0.7,"AAO":-2.5,"ENSO":-1.5,"total":-27.9},
{"p":"l","year":2007,"EESC":-27.2,"SOLAR":3,"QBO30":3.5,"QBO50":2,"ENSO":2.2,"total":-16.7},
{"p":"m","year":1979,"EESC":-24.5,"SOLAR":6.5,"QBO30":3,"ENSO":-1.7,"total":-16.8},
{"p":"m","year":1980,"EESC":-25,"SOLAR":6.5,"AAO":3.5,"QBO30":-2.3,"total":-17.5},
{"p":"m","year":1981,"EESC":-26.3,"SOLAR":7,"QBO30":3.5,"QBO50":-1,"total":-16.4},
{"p":"m","year":1982,"EESC":-27.2,"SOLAR":5.3,"QBO50":2.3,"QBO30":-2.3,"ENSO":-3.5,"total":-25.1},
{"p":"m","year":1983,"EESC":-28,"SOLAR":3,"QBO30":2.3,"AAO":0.7,"QBO50":-1,"ENSO":-3,"total":-25.5},
{"p":"m","year":1984,"EESC":-29.5,"SOLAR":3,"QBO30":1.8,"QBO50":1.5,"ENSO":1.2,"AAO":-1,"total":-21.9},
{"p":"m","year":1985,"EESC":-31,"SOLAR":2.3,"ENSO":2,"QBO30":-2.3,"total":-27.6},
{"p":"m","year":1986,"EESC":-32,"SOLAR":2.3,"QBO30":3,"QBO50":-1.2,"total":-27.8},
{"p":"m","year":1987,"EESC":-33,"SOLAR":2.3,"QBO50":3,"ENSO":-5,"total":-33.2},
{"p":"m","year":1988,"EESC":-34.5,"SOLAR":4.7,"ENSO":4.2,"AAO":-1,"total":-25},
{"p":"m","year":1989,"EESC":-35,"SOLAR":7,"QBO30":3.5,"ENSO":1.9,"AAO":-2.3,"total":-24.5},
{"p":"m","year":1990,"EESC":-36,"SOLAR":6,"QBO50":1.6,"QBO30":-2.8,"ENSO":-0.5,"total":-31.3},
{"p":"m","year":1991,"EESC":-37,"SOLAR":7,"QBO30":2.6,"ENSO":-3,"total":-30.4},
{"p":"m","year":1992,"EESC":-39,"SOLAR":4.7,"AAO":1.9,"VOLC":1.6,"ENSO":-3.3,"total":-33.9},
{"p":"m","year":1993,"EESC":-40,"SOLAR":3,"QBO50":2.3,"ENSO":-2.8,"total":-37.1},
{"p":"m","year":1994,"EESC":-41,"SOLAR":2.3,"QBO50":1.2,"ENSO":-2.5,"total":-38.6},
{"p":"m","year":1995,"EESC":-41.5,"SOLAR":2.3,"QBO50":0.7,"AAO":-2.7,"total":-40.2},
{"p":"m","year":1996,"EESC":-42,"SOLAR":2.3,"QBO30":3,"QBO50":0.7,"AAO":-1,"total":-36.7},
{"p":"m","year":1997,"EESC":-42,"SOLAR":2.3,"QBO50":1.4,"ENSO":-5.8,"total":-44.2},
{"p":"m","year":1998,"EESC":-42,"SOLAR":2.3,"QBO30":3.7,"AAO":-2.2,"total":-37.9},
{"p":"m","year":1999,"EESC":-42.5,"SOLAR":3.5,"QBO30":2.5,"ENSO":1.6,"AAO":-3.2,"total":-36.7},
{"p":"m","year":2000,"EESC":-42.4,"SOLAR":4.7,"QBO30":2.4,"ENSO":1.5,"total":-32},
{"p":"m","year":2001,"EESC":-41.8,"SOLAR":6,"ENSO":3.6,"QBO50":-1,"total":-33.6},
{"p":"m","year":2002,"EESC":-41.5,"SOLAR":6.5,"QBO30":1.5,"ENSO":-2.3,"total":-36.1},
{"p":"m","year":2003,"EESC":-41,"SOLAR":4.2,"QBO30":2.8,"AAO":0.8,"ENSO":-1.8,"total":-33.7},
{"p":"m","year":2004,"EESC":-41.5,"SOLAR":3.5,"QBO50":0.5,"ENSO":-2.3,"total":-38.8},
{"p":"m","year":2005,"EESC":-41,"SOLAR":2.3,"QBO30":4.2,"QBO50":1.3,"AAO":-0.8,"total":-33.5},
{"p":"m","year":2006,"EESC":-41.5,"SOLAR":2.3,"QBO50":1.5,"AAO":-1.5,"total":-38.3},
{"p":"m","year":2007,"EESC":-40,"SOLAR":2.3,"QBO30":5,"QBO50":1,"AAO":-0.5,"total":-31.3}
]},
"data":{"name":"bars"},
"spacing":21.5,
"vconcat":[
{"title":{"text":"Southern Pacific:","fontStyle":"italic","fontWeight":"normal","fontSize":22,"frame":"bounds","dx":-7,"anchor":"start","offset":6},
 "spacing":26.5,
 "hconcat":[
  {"title":"(a) 140°W 35°S","width":304,"height":171,"transform":[{"filter":"datum.p=='a'"}],
   "encoding":{"x":{"field":"year","type":"quantitative","scale":{"domain":[1980,2005],"nice":false,"zero":false,"padding":0},"axis":{"values":[1980,1985,1990,1995,2000,2005],"format":"d","offset":9,"tickSize":10,"labelPadding":13,"labelFlush":false}}},
   "layer":[
   {"transform":[{"fold":["EESC","SOLAR","QBO30","QBO50","AAO","ENSO","VOLC"],"as":["comp","val"]},{"filter":"isValid(datum.val) && datum.val != 0"},{"lookup":"comp","from":{"data":{"name":"comps"},"key":"comp","fields":["ord"]}}],
    "mark":{"type":"bar","size":8,"stroke":"#000","strokeWidth":1,"clip":false},
    "encoding":{
     "y":{"field":"val","type":"quantitative","stack":"zero","scale":{"domain":[-80,40],"nice":false,"padding":0},"axis":{"values":[-80,-60,-40,-20,0,20,40],"offset":30,"tickSize":10,"labelPadding":3}},
     "color":{"field":"comp","type":"nominal","scale":{"domain":["EESC","SOLAR","QBO30","QBO50","AAO","ENSO","VOLC"],"range":["#BEBEBE","#FFFFAA","#857D27","#4B8A2A","#FF0000","#7DD3EA","#A020F0"]},"legend":{"title":null}},
     "order":{"field":"ord","type":"quantitative"}}},
   {"mark":{"type":"line","color":"#FFA500","strokeWidth":1.5,"clip":false},"encoding":{"y":{"field":"total","type":"quantitative","axis":{"values":[-80,-60,-40,-20,0,20,40],"offset":30,"tickSize":10,"labelPadding":3}}}}]},
  {"title":"(b) 140°W 35°S","width":304,"height":171,"transform":[{"filter":"datum.p=='b'"}],
   "encoding":{"x":{"field":"year","type":"quantitative","scale":{"domain":[1980,2005],"nice":false,"zero":false,"padding":0},"axis":{"values":[1980,1985,1990,1995,2000,2005],"format":"d","offset":9,"tickSize":10,"labelPadding":13,"labelFlush":false}}},
   "layer":[
   {"transform":[{"fold":["EESC","SOLAR","QBO30","QBO50","AAO","ENSO","VOLC"],"as":["comp","val"]},{"filter":"isValid(datum.val) && datum.val != 0"},{"lookup":"comp","from":{"data":{"name":"comps"},"key":"comp","fields":["ord"]}}],
    "mark":{"type":"bar","size":8,"stroke":"#000","strokeWidth":1,"clip":false},
    "encoding":{
     "y":{"field":"val","type":"quantitative","stack":"zero","scale":{"domain":[-80,40],"nice":false,"padding":0},"axis":{"values":[-80,-60,-40,-20,0,20,40],"offset":30,"tickSize":10,"labelPadding":3}},
     "color":{"field":"comp","type":"nominal","scale":{"domain":["EESC","SOLAR","QBO30","QBO50","AAO","ENSO","VOLC"],"range":["#BEBEBE","#FFFFAA","#857D27","#4B8A2A","#FF0000","#7DD3EA","#A020F0"]},"legend":{"title":null}},
     "order":{"field":"ord","type":"quantitative"}}},
   {"mark":{"type":"line","color":"#FFA500","strokeWidth":1.5,"clip":false},"encoding":{"y":{"field":"total","type":"quantitative","axis":{"values":[-80,-60,-40,-20,0,20,40],"offset":30,"tickSize":10,"labelPadding":3}}}}]},
  {"title":"(c) 140°W 35°S","width":304,"height":171,"transform":[{"filter":"datum.p=='c'"}],
   "encoding":{"x":{"field":"year","type":"quantitative","scale":{"domain":[1980,2005],"nice":false,"zero":false,"padding":0},"axis":{"values":[1980,1985,1990,1995,2000,2005],"format":"d","offset":9,"tickSize":10,"labelPadding":13,"labelFlush":false}}},
   "layer":[
   {"transform":[{"fold":["EESC","SOLAR","QBO30","QBO50","AAO","ENSO","VOLC"],"as":["comp","val"]},{"filter":"isValid(datum.val) && datum.val != 0"},{"lookup":"comp","from":{"data":{"name":"comps"},"key":"comp","fields":["ord"]}}],
    "mark":{"type":"bar","size":8,"stroke":"#000","strokeWidth":1,"clip":false},
    "encoding":{
     "y":{"field":"val","type":"quantitative","stack":"zero","scale":{"domain":[-80,40],"nice":false,"padding":0},"axis":{"values":[-80,-60,-40,-20,0,20,40],"offset":30,"tickSize":10,"labelPadding":3}},
     "color":{"field":"comp","type":"nominal","scale":{"domain":["EESC","SOLAR","QBO30","QBO50","AAO","ENSO","VOLC"],"range":["#BEBEBE","#FFFFAA","#857D27","#4B8A2A","#FF0000","#7DD3EA","#A020F0"]},"legend":{"title":null}},
     "order":{"field":"ord","type":"quantitative"}}},
   {"mark":{"type":"line","color":"#FFA500","strokeWidth":1.5,"clip":false},"encoding":{"y":{"field":"total","type":"quantitative","axis":{"values":[-80,-60,-40,-20,0,20,40],"offset":30,"tickSize":10,"labelPadding":3}}}}]}
 ]},
{"title":{"text":"Antarctic Peninsula:","fontStyle":"italic","fontWeight":"normal","fontSize":22,"frame":"bounds","dx":-7,"anchor":"start","offset":6},
 "spacing":26.5,
 "hconcat":[
  {"title":"(d) 60°W 56°S","width":304,"height":171,"transform":[{"filter":"datum.p=='d'"}],
   "encoding":{"x":{"field":"year","type":"quantitative","scale":{"domain":[1980,2005],"nice":false,"zero":false,"padding":0},"axis":{"values":[1980,1985,1990,1995,2000,2005],"format":"d","offset":9,"tickSize":10,"labelPadding":13,"labelFlush":false}}},
   "layer":[
   {"transform":[{"fold":["EESC","SOLAR","QBO30","QBO50","AAO","ENSO","VOLC"],"as":["comp","val"]},{"filter":"isValid(datum.val) && datum.val != 0"},{"lookup":"comp","from":{"data":{"name":"comps"},"key":"comp","fields":["ord"]}}],
    "mark":{"type":"bar","size":8,"stroke":"#000","strokeWidth":1,"clip":false},
    "encoding":{
     "y":{"field":"val","type":"quantitative","stack":"zero","scale":{"domain":[-80,40],"nice":false,"padding":0},"axis":{"values":[-80,-60,-40,-20,0,20,40],"offset":30,"tickSize":10,"labelPadding":3}},
     "color":{"field":"comp","type":"nominal","scale":{"domain":["EESC","SOLAR","QBO30","QBO50","AAO","ENSO","VOLC"],"range":["#BEBEBE","#FFFFAA","#857D27","#4B8A2A","#FF0000","#7DD3EA","#A020F0"]},"legend":{"title":null}},
     "order":{"field":"ord","type":"quantitative"}}},
   {"mark":{"type":"line","color":"#FFA500","strokeWidth":1.5,"clip":false},"encoding":{"y":{"field":"total","type":"quantitative","axis":{"values":[-80,-60,-40,-20,0,20,40],"offset":30,"tickSize":10,"labelPadding":3}}}}]},
  {"title":"(e) 60°W 56°S","width":304,"height":171,"transform":[{"filter":"datum.p=='e'"}],
   "encoding":{"x":{"field":"year","type":"quantitative","scale":{"domain":[1980,2005],"nice":false,"zero":false,"padding":0},"axis":{"values":[1980,1985,1990,1995,2000,2005],"format":"d","offset":9,"tickSize":10,"labelPadding":13,"labelFlush":false}}},
   "layer":[
   {"transform":[{"fold":["EESC","SOLAR","QBO30","QBO50","AAO","ENSO","VOLC"],"as":["comp","val"]},{"filter":"isValid(datum.val) && datum.val != 0"},{"lookup":"comp","from":{"data":{"name":"comps"},"key":"comp","fields":["ord"]}}],
    "mark":{"type":"bar","size":8,"stroke":"#000","strokeWidth":1,"clip":false},
    "encoding":{
     "y":{"field":"val","type":"quantitative","stack":"zero","scale":{"domain":[-80,40],"nice":false,"padding":0},"axis":{"values":[-80,-60,-40,-20,0,20,40],"offset":30,"tickSize":10,"labelPadding":3}},
     "color":{"field":"comp","type":"nominal","scale":{"domain":["EESC","SOLAR","QBO30","QBO50","AAO","ENSO","VOLC"],"range":["#BEBEBE","#FFFFAA","#857D27","#4B8A2A","#FF0000","#7DD3EA","#A020F0"]},"legend":{"title":null}},
     "order":{"field":"ord","type":"quantitative"}}},
   {"mark":{"type":"line","color":"#FFA500","strokeWidth":1.5,"clip":false},"encoding":{"y":{"field":"total","type":"quantitative","axis":{"values":[-80,-60,-40,-20,0,20,40],"offset":30,"tickSize":10,"labelPadding":3}}}}]},
  {"title":"(f) 60°W 56°S","width":304,"height":171,"transform":[{"filter":"datum.p=='f'"}],
   "encoding":{"x":{"field":"year","type":"quantitative","scale":{"domain":[1980,2005],"nice":false,"zero":false,"padding":0},"axis":{"values":[1980,1985,1990,1995,2000,2005],"format":"d","offset":9,"tickSize":10,"labelPadding":13,"labelFlush":false}}},
   "layer":[
   {"transform":[{"fold":["EESC","SOLAR","QBO30","QBO50","AAO","ENSO","VOLC"],"as":["comp","val"]},{"filter":"isValid(datum.val) && datum.val != 0"},{"lookup":"comp","from":{"data":{"name":"comps"},"key":"comp","fields":["ord"]}}],
    "mark":{"type":"bar","size":8,"stroke":"#000","strokeWidth":1,"clip":false},
    "encoding":{
     "y":{"field":"val","type":"quantitative","stack":"zero","scale":{"domain":[-80,40],"nice":false,"padding":0},"axis":{"values":[-80,-60,-40,-20,0,20,40],"offset":30,"tickSize":10,"labelPadding":3}},
     "color":{"field":"comp","type":"nominal","scale":{"domain":["EESC","SOLAR","QBO30","QBO50","AAO","ENSO","VOLC"],"range":["#BEBEBE","#FFFFAA","#857D27","#4B8A2A","#FF0000","#7DD3EA","#A020F0"]},"legend":{"title":null}},
     "order":{"field":"ord","type":"quantitative"}}},
   {"mark":{"type":"line","color":"#FFA500","strokeWidth":1.5,"clip":false},"encoding":{"y":{"field":"total","type":"quantitative","axis":{"values":[-80,-60,-40,-20,0,20,40],"offset":30,"tickSize":10,"labelPadding":3}}}}]}
 ]},
{"title":{"text":"Central Southern Mid-Latitudes:","fontStyle":"italic","fontWeight":"normal","fontSize":22,"frame":"bounds","dx":-7,"anchor":"start","offset":6},
 "spacing":26.5,
 "hconcat":[
  {"title":"(g) 65°E 45°S","width":304,"height":171,"transform":[{"filter":"datum.p=='g'"}],
   "encoding":{"x":{"field":"year","type":"quantitative","scale":{"domain":[1980,2005],"nice":false,"zero":false,"padding":0},"axis":{"values":[1980,1985,1990,1995,2000,2005],"format":"d","offset":9,"tickSize":10,"labelPadding":13,"labelFlush":false}}},
   "layer":[
   {"transform":[{"fold":["EESC","SOLAR","QBO30","QBO50","AAO","ENSO","VOLC"],"as":["comp","val"]},{"filter":"isValid(datum.val) && datum.val != 0"},{"lookup":"comp","from":{"data":{"name":"comps"},"key":"comp","fields":["ord"]}}],
    "mark":{"type":"bar","size":8,"stroke":"#000","strokeWidth":1,"clip":false},
    "encoding":{
     "y":{"field":"val","type":"quantitative","stack":"zero","scale":{"domain":[-80,40],"nice":false,"padding":0},"axis":{"values":[-80,-60,-40,-20,0,20,40],"offset":30,"tickSize":10,"labelPadding":3}},
     "color":{"field":"comp","type":"nominal","scale":{"domain":["EESC","SOLAR","QBO30","QBO50","AAO","ENSO","VOLC"],"range":["#BEBEBE","#FFFFAA","#857D27","#4B8A2A","#FF0000","#7DD3EA","#A020F0"]},"legend":{"title":null}},
     "order":{"field":"ord","type":"quantitative"}}},
   {"mark":{"type":"line","color":"#FFA500","strokeWidth":1.5,"clip":false},"encoding":{"y":{"field":"total","type":"quantitative","axis":{"values":[-80,-60,-40,-20,0,20,40],"offset":30,"tickSize":10,"labelPadding":3}}}}]},
  {"title":"(h) 65°E 45°S","width":304,"height":171,"transform":[{"filter":"datum.p=='h'"}],
   "encoding":{"x":{"field":"year","type":"quantitative","scale":{"domain":[1980,2005],"nice":false,"zero":false,"padding":0},"axis":{"values":[1980,1985,1990,1995,2000,2005],"format":"d","offset":9,"tickSize":10,"labelPadding":13,"labelFlush":false}}},
   "layer":[
   {"transform":[{"fold":["EESC","SOLAR","QBO30","QBO50","AAO","ENSO","VOLC"],"as":["comp","val"]},{"filter":"isValid(datum.val) && datum.val != 0"},{"lookup":"comp","from":{"data":{"name":"comps"},"key":"comp","fields":["ord"]}}],
    "mark":{"type":"bar","size":8,"stroke":"#000","strokeWidth":1,"clip":false},
    "encoding":{
     "y":{"field":"val","type":"quantitative","stack":"zero","scale":{"domain":[-80,40],"nice":false,"padding":0},"axis":{"values":[-80,-60,-40,-20,0,20,40],"offset":30,"tickSize":10,"labelPadding":3}},
     "color":{"field":"comp","type":"nominal","scale":{"domain":["EESC","SOLAR","QBO30","QBO50","AAO","ENSO","VOLC"],"range":["#BEBEBE","#FFFFAA","#857D27","#4B8A2A","#FF0000","#7DD3EA","#A020F0"]},"legend":{"title":null}},
     "order":{"field":"ord","type":"quantitative"}}},
   {"mark":{"type":"line","color":"#FFA500","strokeWidth":1.5,"clip":false},"encoding":{"y":{"field":"total","type":"quantitative","axis":{"values":[-80,-60,-40,-20,0,20,40],"offset":30,"tickSize":10,"labelPadding":3}}}}]},
  {"title":"(i) 65°E 45°S","width":304,"height":171,"transform":[{"filter":"datum.p=='i'"}],
   "encoding":{"x":{"field":"year","type":"quantitative","scale":{"domain":[1980,2005],"nice":false,"zero":false,"padding":0},"axis":{"values":[1980,1985,1990,1995,2000,2005],"format":"d","offset":9,"tickSize":10,"labelPadding":13,"labelFlush":false}}},
   "layer":[
   {"transform":[{"fold":["EESC","SOLAR","QBO30","QBO50","AAO","ENSO","VOLC"],"as":["comp","val"]},{"filter":"isValid(datum.val) && datum.val != 0"},{"lookup":"comp","from":{"data":{"name":"comps"},"key":"comp","fields":["ord"]}}],
    "mark":{"type":"bar","size":8,"stroke":"#000","strokeWidth":1,"clip":false},
    "encoding":{
     "y":{"field":"val","type":"quantitative","stack":"zero","scale":{"domain":[-80,40],"nice":false,"padding":0},"axis":{"values":[-80,-60,-40,-20,0,20,40],"offset":30,"tickSize":10,"labelPadding":3}},
     "color":{"field":"comp","type":"nominal","scale":{"domain":["EESC","SOLAR","QBO30","QBO50","AAO","ENSO","VOLC"],"range":["#BEBEBE","#FFFFAA","#857D27","#4B8A2A","#FF0000","#7DD3EA","#A020F0"]},"legend":{"title":null}},
     "order":{"field":"ord","type":"quantitative"}}},
   {"mark":{"type":"line","color":"#FFA500","strokeWidth":1.5,"clip":false},"encoding":{"y":{"field":"total","type":"quantitative","axis":{"values":[-80,-60,-40,-20,0,20,40],"offset":30,"tickSize":10,"labelPadding":3}}}}]}
 ]},
{"title":{"text":"Lower Southern Mid-Latitudes:","fontStyle":"italic","fontWeight":"normal","fontSize":22,"frame":"bounds","dx":-7,"anchor":"start","offset":6},
 "spacing":26.5,
 "hconcat":[
  {"title":"(k) 95°E 55°S","width":304,"height":171,"transform":[{"filter":"datum.p=='k'"}],
   "encoding":{"x":{"field":"year","type":"quantitative","scale":{"domain":[1980,2005],"nice":false,"zero":false,"padding":0},"axis":{"values":[1980,1985,1990,1995,2000,2005],"format":"d","offset":9,"tickSize":10,"labelPadding":13,"labelFlush":false}}},
   "layer":[
   {"transform":[{"fold":["EESC","SOLAR","QBO30","QBO50","AAO","ENSO","VOLC"],"as":["comp","val"]},{"filter":"isValid(datum.val) && datum.val != 0"},{"lookup":"comp","from":{"data":{"name":"comps"},"key":"comp","fields":["ord"]}}],
    "mark":{"type":"bar","size":8,"stroke":"#000","strokeWidth":1,"clip":false},
    "encoding":{
     "y":{"field":"val","type":"quantitative","stack":"zero","scale":{"domain":[-80,40],"nice":false,"padding":0},"axis":{"values":[-80,-60,-40,-20,0,20,40],"offset":30,"tickSize":10,"labelPadding":3}},
     "color":{"field":"comp","type":"nominal","scale":{"domain":["EESC","SOLAR","QBO30","QBO50","AAO","ENSO","VOLC"],"range":["#BEBEBE","#FFFFAA","#857D27","#4B8A2A","#FF0000","#7DD3EA","#A020F0"]},"legend":{"title":null}},
     "order":{"field":"ord","type":"quantitative"}}},
   {"mark":{"type":"line","color":"#FFA500","strokeWidth":1.5,"clip":false},"encoding":{"y":{"field":"total","type":"quantitative","axis":{"values":[-80,-60,-40,-20,0,20,40],"offset":30,"tickSize":10,"labelPadding":3}}}}]},
  {"title":"(l) 95°E 55°S","width":304,"height":171,"transform":[{"filter":"datum.p=='l'"}],
   "encoding":{"x":{"field":"year","type":"quantitative","scale":{"domain":[1980,2005],"nice":false,"zero":false,"padding":0},"axis":{"values":[1980,1985,1990,1995,2000,2005],"format":"d","offset":9,"tickSize":10,"labelPadding":13,"labelFlush":false}}},
   "layer":[
   {"transform":[{"fold":["EESC","SOLAR","QBO30","QBO50","AAO","ENSO","VOLC"],"as":["comp","val"]},{"filter":"isValid(datum.val) && datum.val != 0"},{"lookup":"comp","from":{"data":{"name":"comps"},"key":"comp","fields":["ord"]}}],
    "mark":{"type":"bar","size":8,"stroke":"#000","strokeWidth":1,"clip":false},
    "encoding":{
     "y":{"field":"val","type":"quantitative","stack":"zero","scale":{"domain":[-80,40],"nice":false,"padding":0},"axis":{"values":[-80,-60,-40,-20,0,20,40],"offset":30,"tickSize":10,"labelPadding":3}},
     "color":{"field":"comp","type":"nominal","scale":{"domain":["EESC","SOLAR","QBO30","QBO50","AAO","ENSO","VOLC"],"range":["#BEBEBE","#FFFFAA","#857D27","#4B8A2A","#FF0000","#7DD3EA","#A020F0"]},"legend":{"title":null}},
     "order":{"field":"ord","type":"quantitative"}}},
   {"mark":{"type":"line","color":"#FFA500","strokeWidth":1.5,"clip":false},"encoding":{"y":{"field":"total","type":"quantitative","axis":{"values":[-80,-60,-40,-20,0,20,40],"offset":30,"tickSize":10,"labelPadding":3}}}}]},
  {"title":"(m) 95°E 55°S","width":304,"height":171,"transform":[{"filter":"datum.p=='m'"}],
   "encoding":{"x":{"field":"year","type":"quantitative","scale":{"domain":[1980,2005],"nice":false,"zero":false,"padding":0},"axis":{"values":[1980,1985,1990,1995,2000,2005],"format":"d","offset":9,"tickSize":10,"labelPadding":13,"labelFlush":false}}},
   "layer":[
   {"transform":[{"fold":["EESC","SOLAR","QBO30","QBO50","AAO","ENSO","VOLC"],"as":["comp","val"]},{"filter":"isValid(datum.val) && datum.val != 0"},{"lookup":"comp","from":{"data":{"name":"comps"},"key":"comp","fields":["ord"]}}],
    "mark":{"type":"bar","size":8,"stroke":"#000","strokeWidth":1,"clip":false},
    "encoding":{
     "y":{"field":"val","type":"quantitative","stack":"zero","scale":{"domain":[-80,40],"nice":false,"padding":0},"axis":{"values":[-80,-60,-40,-20,0,20,40],"offset":30,"tickSize":10,"labelPadding":3}},
     "color":{"field":"comp","type":"nominal","scale":{"domain":["EESC","SOLAR","QBO30","QBO50","AAO","ENSO","VOLC"],"range":["#BEBEBE","#FFFFAA","#857D27","#4B8A2A","#FF0000","#7DD3EA","#A020F0"]},"legend":{"title":null}},
     "order":{"field":"ord","type":"quantitative"}}},
   {"mark":{"type":"line","color":"#FFA500","strokeWidth":1.5,"clip":false},"encoding":{"y":{"field":"total","type":"quantitative","axis":{"values":[-80,-60,-40,-20,0,20,40],"offset":30,"tickSize":10,"labelPadding":3}}}}]}
 ]}
]
}
